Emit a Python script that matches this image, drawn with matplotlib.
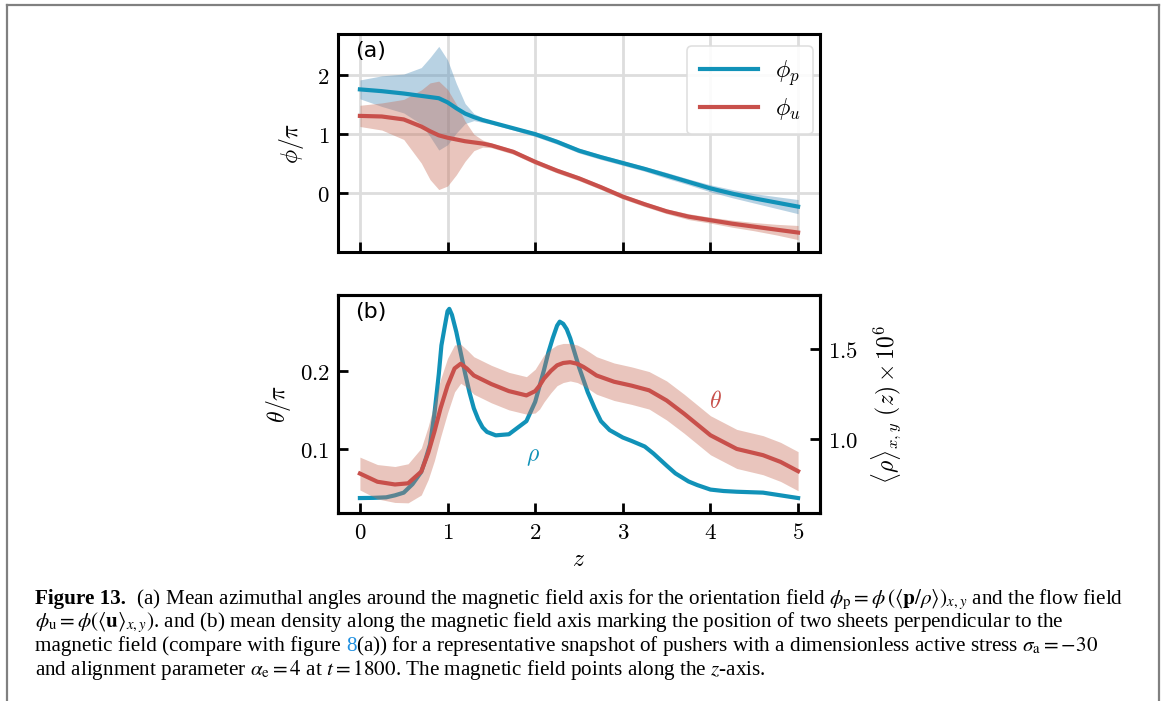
import numpy as np
import matplotlib.pyplot as plt
from matplotlib.lines import Line2D

plt.rcParams['mathtext.fontset'] = 'cm'

# panel (a): azimuthal angles along z
z_a = [0, 0.25, 0.5, 0.7, 0.8, 0.9, 1.0, 1.1, 1.2, 1.3, 1.4, 1.5, 1.75, 2.0,
       2.25, 2.5, 2.75, 3.0, 3.25, 3.5, 3.75, 4.0, 4.25, 4.5, 4.75, 5.0]
phi_p = [1.76, 1.73, 1.69, 1.65, 1.63, 1.61, 1.54, 1.44, 1.35, 1.29, 1.24, 1.20, 1.10, 1.00,
         0.87, 0.72, 0.61, 0.51, 0.41, 0.30, 0.19, 0.08, -0.01, -0.09, -0.16, -0.23]
phi_p_err = [0.16, 0.26, 0.33, 0.48, 0.67, 0.88, 0.72, 0.42, 0.17, 0.06, 0.04, 0.03, 0.03, 0.04,
             0.04, 0.04, 0.04, 0.04, 0.04, 0.05, 0.05, 0.06, 0.07, 0.08, 0.10, 0.12]
phi_u = [1.31, 1.30, 1.25, 1.13, 1.05, 0.98, 0.94, 0.91, 0.88, 0.86, 0.84, 0.81, 0.70, 0.53,
         0.38, 0.25, 0.10, -0.06, -0.19, -0.31, -0.40, -0.46, -0.52, -0.57, -0.62, -0.67]
phi_u_err = [0.18, 0.23, 0.34, 0.62, 0.82, 0.92, 0.82, 0.60, 0.34, 0.14, 0.06, 0.04, 0.04, 0.04,
             0.04, 0.04, 0.04, 0.04, 0.04, 0.04, 0.05, 0.05, 0.06, 0.07, 0.09, 0.12]

# panel (b): polar angle and mean density along z
z_b = [0, 0.2, 0.4, 0.55, 0.7, 0.78, 0.85, 0.92, 1.0, 1.08, 1.15, 1.22, 1.3, 1.5, 1.7, 1.9,
       2.0, 2.05, 2.1, 2.18, 2.25, 2.32, 2.4, 2.48, 2.55, 2.62, 2.7, 2.8, 2.9, 3.1, 3.3, 3.5,
       3.7, 4.0, 4.3, 4.6, 4.8, 5.0]
theta = [0.0685, 0.058, 0.0545, 0.056, 0.071, 0.095, 0.122, 0.152, 0.181, 0.203, 0.209, 0.203,
         0.194, 0.183, 0.174, 0.1685, 0.174, 0.181, 0.19, 0.2, 0.207, 0.21, 0.211, 0.209, 0.205,
         0.2, 0.194, 0.19, 0.186, 0.181, 0.175, 0.162, 0.145, 0.1175, 0.1, 0.092, 0.0834, 0.0715]
theta_err = [0.021, 0.022, 0.023, 0.025, 0.03, 0.034, 0.037, 0.037, 0.035, 0.03, 0.025, 0.024,
             0.024, 0.024, 0.024, 0.024, 0.028, 0.03, 0.03, 0.028, 0.026, 0.025, 0.024, 0.024,
             0.024, 0.024, 0.024, 0.024, 0.024, 0.024, 0.024, 0.025, 0.025, 0.025, 0.025, 0.025,
             0.025, 0.025]
z_rho = [0, 0.15, 0.3, 0.4, 0.5, 0.6, 0.7, 0.75, 0.8, 0.85, 0.9, 0.93, 0.97, 1.0, 1.02, 1.05,
         1.1, 1.15, 1.2, 1.25, 1.3, 1.35, 1.4, 1.45, 1.55, 1.7, 1.9, 2.0, 2.1, 2.15, 2.2, 2.25,
         2.28, 2.32, 2.36, 2.4, 2.45, 2.5, 2.55, 2.6, 2.68, 2.75, 2.85, 3.0, 3.1, 3.25, 3.35,
         3.5, 3.6, 3.75, 3.85, 4.0, 4.15, 4.3, 4.6, 5.0]
rho = [0.673, 0.674, 0.677, 0.688, 0.703, 0.75, 0.818, 0.89, 0.97, 1.14, 1.36, 1.52, 1.63, 1.71,
       1.723, 1.69, 1.595, 1.48, 1.366, 1.26, 1.171, 1.11, 1.065, 1.04, 1.021, 1.027, 1.10,
       1.207, 1.383, 1.48, 1.56, 1.63, 1.652, 1.64, 1.61, 1.56, 1.48, 1.40, 1.33, 1.26, 1.17,
       1.10, 1.05, 1.009, 0.99, 0.959, 0.92, 0.853, 0.81, 0.765, 0.745, 0.72, 0.712, 0.708,
       0.703, 0.673]

BLUE = '#1192b8'
RED = '#c8504b'
W, H = 1165, 701

fig = plt.figure(figsize=(W / 100, H / 100), dpi=100)


def style_axis(ax):
    for s in ax.spines.values():
        s.set_linewidth(2.2)
    ax.tick_params(direction='in', length=7, width=2, labelsize=16.5, pad=6,
                   right=False, top=False)


zt = [0, 1, 2, 3, 4, 5]

# ---- (a)
ax1 = fig.add_axes([338 / W, 1 - 252 / H, 482 / W, 218 / H])
ax1.fill_between(z_a, np.subtract(phi_p, phi_p_err), np.add(phi_p, phi_p_err),
                 color='#4f8fba', alpha=0.4, lw=0)
ax1.fill_between(z_a, np.subtract(phi_u, phi_u_err), np.add(phi_u, phi_u_err),
                 color='#c8705a', alpha=0.4, lw=0)
ax1.plot(z_a, phi_p, color=BLUE, lw=3, label=r'$\phi_p$')
ax1.plot(z_a, phi_u, color=RED, lw=3, label=r'$\phi_u$')
ax1.set_xlim(-0.25, 5.25)
ax1.set_ylim(-1.0, 2.7)
ax1.set_xticks(zt)
ax1.set_xticklabels([])
ax1.set_yticks([0, 1, 2])
ax1.set_yticklabels(['$0$', '$1$', '$2$'])
ax1.grid(True, color='#dddddd', lw=2)
ax1.set_axisbelow(True)
style_axis(ax1)
ax1.set_ylabel(r'$\phi/\pi$', fontsize=17, labelpad=8)
ax1.text(0.035, 0.97, '(a)', transform=ax1.transAxes, fontsize=16, va='top')
leg = ax1.legend(loc='upper right', fontsize=17.5, handlelength=2.4, borderpad=0.5,
                 labelspacing=0.35, handletextpad=0.7, fancybox=True, framealpha=0.9,
                 borderaxespad=0, bbox_to_anchor=(0.985, 0.945))
leg.get_frame().set_edgecolor('#dddddd')
leg.get_frame().set_linewidth(1.2)

# ---- (b)
ax2 = fig.add_axes([338 / W, 1 - 513 / H, 482 / W, 218 / H])
ax3 = ax2.twinx()
ax3.plot(z_rho, rho, color=BLUE, lw=3)
ax3.set_ylim(0.59, 1.80)
ax3.set_yticks([1.0, 1.5])
ax3.set_yticklabels(['$1.0$', '$1.5$'])
style_axis(ax3)
ax3.tick_params(axis='y', right=True, left=False)
ax3.set_ylabel(r'$\langle\rho\rangle_{x,y}\ (z)\times 10^6$', fontsize=17, labelpad=8)

# theta axis drawn over the density curve
ax2.set_zorder(ax3.get_zorder() + 1)
ax2.patch.set_visible(False)
ax2.fill_between(z_b, np.subtract(theta, theta_err), np.add(theta, theta_err),
                 color='#c8705a', alpha=0.4, lw=0)
ax2.plot(z_b, theta, color=RED, lw=3)
ax2.set_xlim(-0.25, 5.25)
ax2.set_ylim(0.018, 0.297)
ax2.set_xticks(zt)
ax2.set_xticklabels(['$%d$' % v for v in zt])
ax2.set_yticks([0.1, 0.2])
ax2.set_yticklabels(['$0.1$', '$0.2$'])
style_axis(ax2)
ax2.set_ylabel(r'$\theta/\pi$', fontsize=17, labelpad=5)
ax2.set_xlabel(r'$z$', fontsize=17, labelpad=2)
ax2.text(0.035, 0.97, '(b)', transform=ax2.transAxes, fontsize=16, va='top')
ax2.text(1.97, 0.091, r'$\rho$', color=BLUE, fontsize=17, ha='center', va='center')
ax2.text(4.06, 0.1615, r'$\theta$', color=RED, fontsize=17, ha='center', va='center')

# ---- page frame
frame = dict(color='#808080', lw=1.6, transform=fig.transFigure)
fig.add_artist(Line2D([7 / W, 1159 / W], [1 - 4.5 / H, 1 - 4.5 / H], **frame))
fig.add_artist(Line2D([7 / W, 7 / W], [0, 1 - 4.5 / H], **frame))
fig.add_artist(Line2D([1159 / W, 1159 / W], [0, 1 - 4.5 / H], **frame))

# ---- caption
renderer = fig.canvas.get_renderer()
cap = dict(family='Liberation Serif', math_fontfamily='stix', fontsize=15.2, va='baseline')


def put_line(y_px, chunks, x_px=35):
    x = x_px / W
    for s, extra in chunks:
        t = fig.text(x, 1 - y_px / H, s, **cap, **extra)
        x += t.get_window_extent(renderer).width / W


put_line(604, [('Figure 13.', dict(fontweight='bold')),
               (r'  (a) Mean azimuthal angles around the magnetic field axis for the orientation field '
                r'$\phi_\mathrm{p} = \phi\,(\langle\mathbf{p}/\rho\rangle)_{x,y}$ and the flow field', {})])
put_line(627.5, [(r'$\phi_\mathrm{u} = \phi(\langle\mathbf{u}\rangle_{x,y})$. and (b) mean density along the '
                  r'magnetic field axis marking the position of two sheets perpendicular to the', {})])
put_line(651, [('magnetic field (compare with figure ', {}),
               ('8', dict(color='#1f8fe0')),
               (r'(a)) for a representative snapshot of pushers with a dimensionless active stress '
                r'$\sigma_\mathrm{a} = -30$', {})])
put_line(674.5, [(r'and alignment parameter $\alpha_\mathrm{e} = 4$ at $t = 1800$. '
                  r'The magnetic field points along the $z$-axis.', {})])

fig.savefig('out.png', dpi=100)
